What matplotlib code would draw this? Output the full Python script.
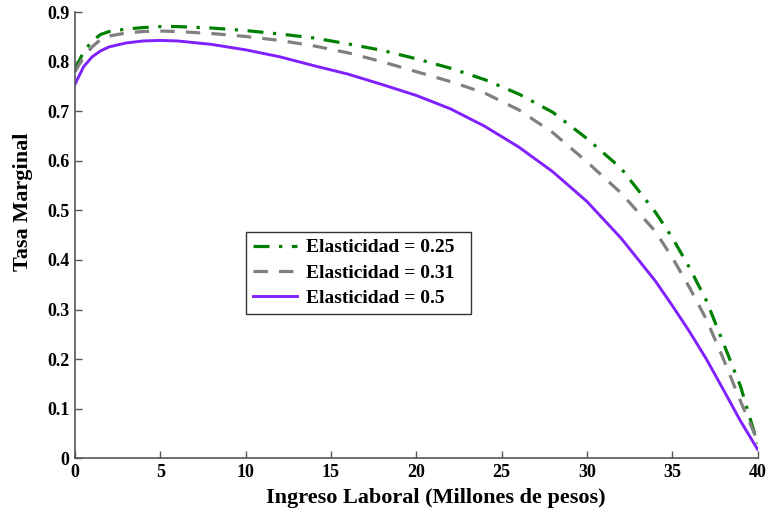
import matplotlib
matplotlib.use('Agg')
import matplotlib.pyplot as plt

# Ingreso laboral (millones de pesos)
ingreso = [0, 0.5, 1, 1.5, 2, 3, 4, 5, 6, 8, 10, 12, 14, 16, 18, 20, 22, 24,
           26, 28, 30, 32, 34, 35, 36, 37, 38, 39, 40]

# Tasa marginal para cada elasticidad
tasa_025 = [0.785, 0.820, 0.842, 0.855, 0.861, 0.866, 0.869, 0.871, 0.871, 0.868,
            0.863, 0.856, 0.848, 0.836, 0.823, 0.806, 0.787, 0.764, 0.735, 0.698,
            0.645, 0.585, 0.497, 0.445, 0.385, 0.318, 0.232, 0.145, 0.030]
tasa_031 = [0.780, 0.810, 0.830, 0.845, 0.852, 0.858, 0.861, 0.862, 0.861, 0.857,
            0.851, 0.843, 0.832, 0.818, 0.800, 0.780, 0.760, 0.737, 0.703, 0.657,
            0.598, 0.535, 0.458, 0.405, 0.345, 0.280, 0.200, 0.115, 0.035]
tasa_050 = [0.755, 0.790, 0.810, 0.822, 0.830, 0.838, 0.842, 0.843, 0.842, 0.835,
            0.824, 0.810, 0.792, 0.775, 0.754, 0.732, 0.705, 0.670, 0.628, 0.578,
            0.518, 0.444, 0.358, 0.308, 0.256, 0.200, 0.138, 0.075, 0.018]

x_ticks = [0, 5, 10, 15, 20, 25, 30, 35, 40]
y_ticks = [0, 0.1, 0.2, 0.3, 0.4, 0.5, 0.6, 0.7, 0.8, 0.9]

plt.rcParams['font.family'] = ['Liberation Serif', 'DejaVu Serif']
plt.rcParams['font.weight'] = 'bold'

fig = plt.figure(figsize=(7.66, 5.08), dpi=100)
ax = fig.add_axes([0.098, 0.098, 0.891, 0.878])

ax.plot(ingreso, tasa_025, color='#008000', lw=2.3, dashes=[5, 3, 1, 3],
        label='Elasticidad = 0.25')
ax.plot(ingreso, tasa_031, color='#808080', lw=2.3, dashes=[4.5, 3.5],
        label='Elasticidad = 0.31')
ax.plot(ingreso, tasa_050, color='#8020ff', lw=2.1,
        label='Elasticidad = 0.5')

ax.set_xlim(0, 40)
ax.set_ylim(0, 0.9)
ax.set_xticks(x_ticks)
ax.set_xticklabels([str(t) for t in x_ticks])
ax.set_yticks(y_ticks)
ax.set_yticklabels(['0'] + ['%.1f' % t for t in y_ticks[1:]])

for side in ['top', 'right']:
    ax.spines[side].set_visible(False)
for side in ['left', 'bottom']:
    ax.spines[side].set_color('#555555')
    ax.spines[side].set_linewidth(1.2)
ax.tick_params(direction='in', length=5, width=1.0, color='#555555',
               labelsize=13, pad=4)

ax.set_xlabel('Ingreso Laboral (Millones de pesos)', fontsize=16,
              fontweight='bold', labelpad=0)
ax.xaxis.set_label_coords(0.528, -0.067)
ax.set_ylabel('Tasa Marginal', fontsize=16, fontweight='bold')
ax.yaxis.set_label_coords(-0.062, 0.574)

# legend box: wider than its contents, like the original
leg = ax.legend(loc='upper left', bbox_to_anchor=(0.25, 0.323, 0.33, 0.184),
                mode='expand', fontsize=14, frameon=True, fancybox=False,
                edgecolor='black', handlelength=2.3, handletextpad=0.45,
                borderpad=0.35, labelspacing=0.4, borderaxespad=0)
leg.get_frame().set_linewidth(1.0)

fig.savefig('out.png', dpi=100)
